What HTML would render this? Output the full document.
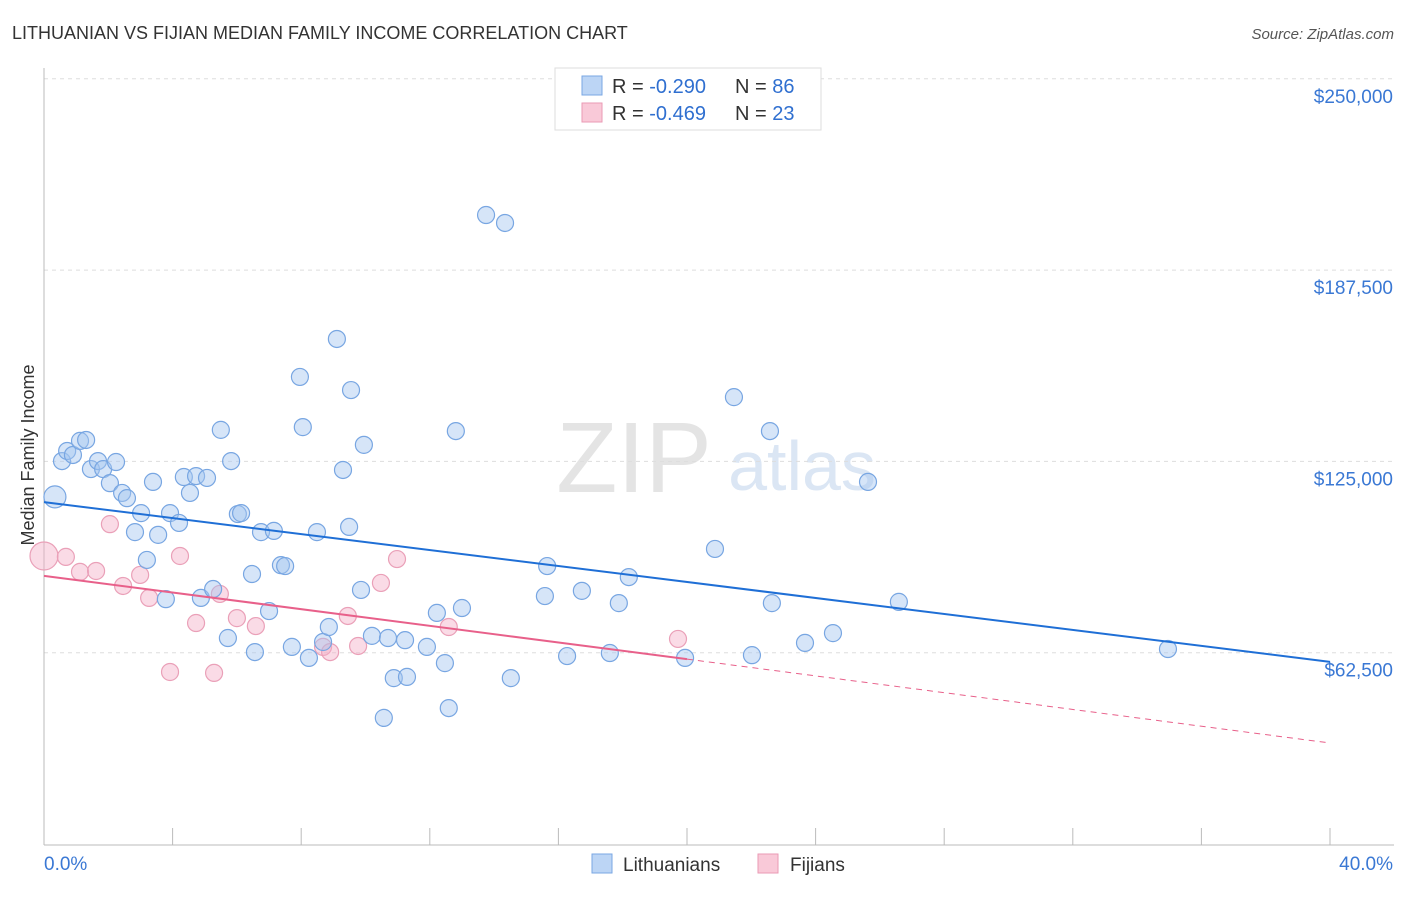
<!DOCTYPE html>
<html><head><meta charset="utf-8"><style>
body{margin:0;background:#fff;font-family:"Liberation Sans",sans-serif;}
svg text{font-family:"Liberation Sans",sans-serif;}
</style></head><body>
<svg id="chart" width="1406" height="892" viewBox="0 0 1406 892">
<text x="12" y="39" font-size="18" fill="#333">LITHUANIAN VS FIJIAN MEDIAN FAMILY INCOME CORRELATION CHART</text>
<text x="1394" y="39" font-size="15" fill="#555" font-style="italic" text-anchor="end">Source: ZipAtlas.com</text>
<text x="634" y="492" font-size="100" fill="#e4e4e4" font-family="Liberation Serif" text-anchor="middle">ZIP</text>
<text x="802" y="490" font-size="70" fill="#dbe6f4" text-anchor="middle">atlas</text>
<g id="grid"></g><g id="axes"></g><g id="pts"></g><g id="lines"></g>
<text transform="translate(34,455) rotate(-90)" font-size="18" fill="#333" text-anchor="middle">Median Family Income</text>
<g>
<rect x="555" y="68" width="266" height="62" fill="#fff" stroke="#ddd"/>
<rect x="582" y="76" width="20" height="19" fill="#bcd5f5" stroke="#7aa7e3"/>
<rect x="582" y="103" width="20" height="19" fill="#f9c9d8" stroke="#ea9ab4"/>
<text x="612" y="93" font-size="20" fill="#333">R = <tspan fill="#2f6fd0">-0.290</tspan></text>
<text x="735" y="93" font-size="20" fill="#333">N = <tspan fill="#2f6fd0">86</tspan></text>
<text x="612" y="120" font-size="20" fill="#333">R = <tspan fill="#2f6fd0">-0.469</tspan></text>
<text x="735" y="120" font-size="20" fill="#333">N = <tspan fill="#2f6fd0">23</tspan></text>
</g>
<g>
<rect x="592" y="854" width="20" height="19" fill="#bcd5f5" stroke="#7aa7e3"/>
<text x="623" y="871" font-size="19" fill="#333">Lithuanians</text>
<rect x="758" y="854" width="20" height="19" fill="#f9c9d8" stroke="#ea9ab4"/>
<text x="790" y="871" font-size="19" fill="#333">Fijians</text>
</g>
</svg>
<script>
const yTicks=[62500,125000,187500,250000];
const yTickLabels=["$62,500","$125,000","$187,500","$250,000"];
const xTickLabels=["0.0%","40.0%"];
const blueX=[0.34,0.56,0.72,0.9,1.12,1.31,1.46,1.68,1.84,2.24,2.05,2.43,2.58,3.02,2.83,3.2,3.39,3.55,3.79,3.92,4.2,4.35,4.54,4.73,5.07,4.88,5.26,5.5,5.72,5.82,6.03,6.13,6.47,6.56,6.75,7,7.15,7.37,7.5,7.71,7.96,8.05,8.24,8.49,8.68,8.86,9.11,9.3,9.49,9.55,9.86,9.95,10.2,10.57,10.7,10.88,11.23,11.29,11.91,12.22,12.47,12.59,12.81,13,13.75,14.34,14.52,15.58,15.65,16.27,16.73,17.6,17.88,18.19,19.94,20.87,21.46,22.02,22.58,22.64,23.67,24.54,25.63,26.59,34.96];
const blueY=[113.4,125.1,128.4,127.1,131.7,132,122.5,125.1,122.5,124.8,117.9,114.7,113,108.1,101.9,92.8,118.3,101,80,108.1,104.9,119.9,114.7,120.2,119.6,80.4,83.3,135.3,67.3,125.1,107.8,108.1,88.2,62.7,101.9,76.1,102.3,91.1,90.8,64.4,152.6,136.2,60.8,101.9,66,70.9,165,122.2,103.6,148.3,83,130.4,68,41.2,67.3,54.2,66.6,54.6,64.4,75.5,59.1,44.4,134.9,77.1,205.5,202.9,54.2,81,90.8,61.4,82.7,62.4,78.7,87.2,60.8,96.4,146,61.7,134.9,78.7,65.7,68.9,118.3,79.1,63.7];
const pinkX=[0,0.68,1.12,1.62,2.05,2.46,2.99,3.27,3.92,4.23,4.73,5.29,5.47,6,6.59,8.68,8.9,9.45,9.77,10.48,10.98,12.59,19.72];
const pinkY=[94.1,93.8,88.9,89.2,104.5,84.3,87.9,80.4,56.2,94.1,72.2,55.9,81.7,73.8,71.2,64.4,62.7,74.5,64.7,85.3,93.1,70.9,67];
const blueTrend=[111.7,59.5];
const pinkTrend=[87.6,60.4,33.0];
const NS="http://www.w3.org/2000/svg";
const xs=v=>44+v/40*1286;
const ys=v=>844-v/62.5*191.3;
function mk(p,t,a){const e=document.createElementNS(NS,t);for(const k in a)e.setAttribute(k,a[k]);document.getElementById(p).appendChild(e);return e;}
yTicks.forEach((t,i)=>{
 const l=mk('grid','line',{x1:44,x2:1394,y1:ys(t/1000),y2:ys(t/1000),stroke:'#ddd','stroke-dasharray':'4,4'});
 
 
 const tx=mk('axes','text',{x:1393,y:ys(t/1000)+24,'font-size':19,fill:'#3a78d4','text-anchor':'end'});
 tx.textContent=yTickLabels[i];
 
 
});
mk('axes','line',{x1:44,x2:44,y1:68,y2:845,stroke:'#bbb'});
mk('axes','line',{x1:44,x2:1394,y1:845,y2:845,stroke:'#bbb'});
for(let i=0;i<=10;i++){const x=xs(i*4);const t=mk('axes','line',{x1:x,x2:x,y1:828,y2:845,stroke:'#bbb'});}
[[0,'start',44],[1,'end',1393]].forEach(([i,a,x])=>{const t=mk('axes','text',{x:x,y:870,'font-size':19,fill:'#3a78d4','text-anchor':a});t.textContent=xTickLabels[i];});
pinkX.forEach((x,i)=>{
 const r=i===0?14:8.5;
 const c=mk('pts','circle',{cx:xs(x),cy:ys(pinkY[i]),r:r,fill:'rgba(245,175,200,0.45)',stroke:'#eaa0b8','stroke-width':1.2});
 
 
});
blueX.forEach((x,i)=>{
 const r=i===0?11:8.5;
 const c=mk('pts','circle',{cx:xs(x),cy:ys(blueY[i]),r:r,fill:'rgba(165,198,240,0.45)',stroke:'#78a6e2','stroke-width':1.2});
 
 
});
const bl=mk('lines','line',{x1:xs(0),y1:ys(blueTrend[0]),x2:xs(40),y2:ys(blueTrend[1]),stroke:'#1f6fd6','stroke-width':2});


const pl=mk('lines','line',{x1:xs(0),y1:ys(pinkTrend[0]),x2:xs(20),y2:ys(pinkTrend[1]),stroke:'#e8608a','stroke-width':2});


const pd=mk('lines','line',{x1:xs(20),y1:ys(pinkTrend[1]),x2:xs(40),y2:ys(pinkTrend[2]),stroke:'#e8608a','stroke-width':1,'stroke-dasharray':'6,5'});


</script>
</body></html>
